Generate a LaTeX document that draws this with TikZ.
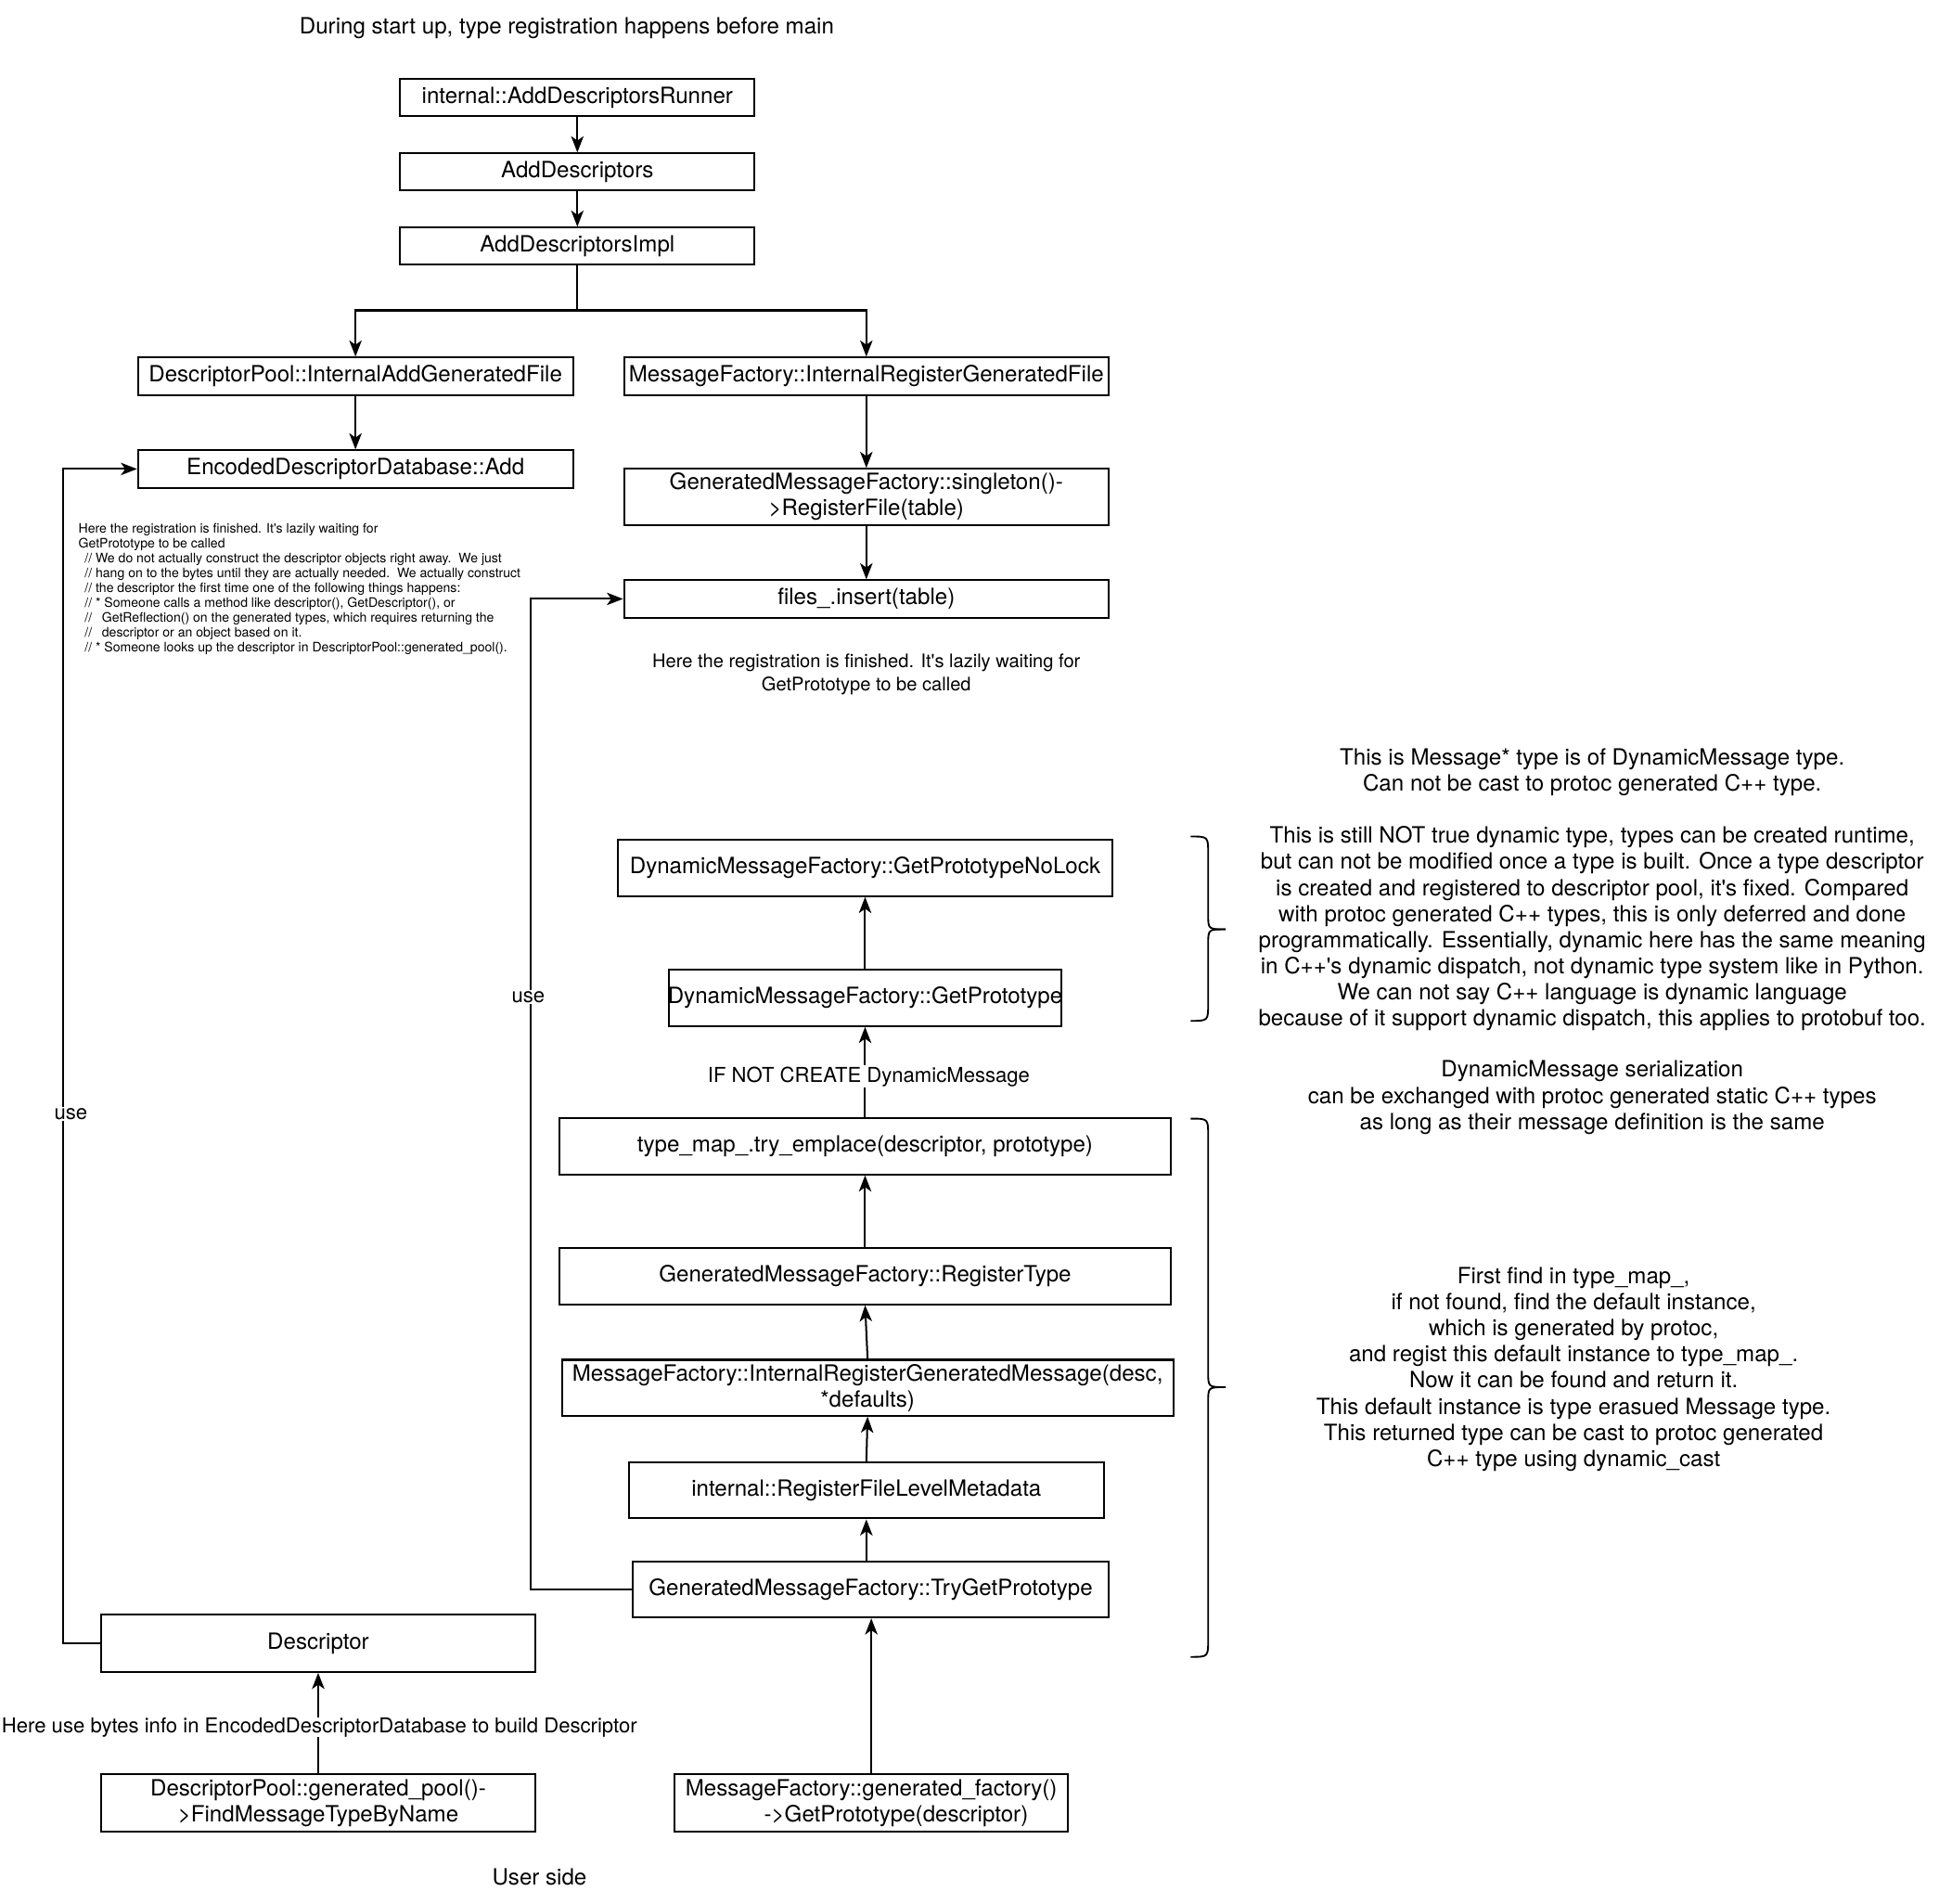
\documentclass[tikz,border=0pt]{standalone}
\usepackage{fontspec}
\setmainfont{TeX Gyre Heros}[Ligatures=TeXOff]
\usetikzlibrary{arrows.meta}
\newcommand\fmain{\fontsize{18}{21}\selectfont}
\newcommand\flab{\fontsize{16.5}{20}\selectfont}
\newcommand\fmid{\fontsize{15}{18}\selectfont}
\newcommand\fsmall{\fontsize{10.5}{12}\selectfont}
\begin{document}
\begin{tikzpicture}[x=1pt,y=-0.9954pt,
  box/.style={draw, line width=1.5pt, inner sep=0pt, align=center, font=\fmain},
  txt/.style={inner sep=0pt, align=center, font=\fmain},
  lbl/.style={fill=white, inner sep=1pt, font=\flab},
  arr/.style={-{Stealth[length=13pt,width=10pt,inset=3.5pt]}, line width=1.5pt},
  brace/.style={line width=1.4pt}]
\path[use as bounding box] (0,0) rectangle (1560,1538.7);

% title
\node[txt] (title) at (456,23) {During start up, type registration happens before main};

% top chain
\node[box, minimum width=285, minimum height=30] (n1) at (464.5,79) {internal::AddDescriptorsRunner};
\node[box, minimum width=285, minimum height=30] (n2) at (464.5,139) {AddDescriptors};
\node[box, minimum width=285, minimum height=30] (n3) at (464.5,199) {AddDescriptorsImpl};
\node[box, minimum width=350, minimum height=30] (n4) at (286,304) {DescriptorPool::InternalAddGeneratedFile};
\node[box, minimum width=390, minimum height=30] (n5) at (697,304) {MessageFactory::InternalRegisterGeneratedFile};
\node[box, minimum width=350, minimum height=30] (n6) at (286,379) {EncodedDescriptorDatabase::Add};
\node[box, minimum width=390, minimum height=45] (n7) at (697,401.5) {GeneratedMessageFactory::singleton()-\\>RegisterFile(table)};
\node[box, minimum width=390, minimum height=30] (n8) at (697,484) {files\_.insert(table)};

\draw[arr] (n1.south) -- (n2.north);
\draw[arr] (n2.south) -- (n3.north);
\draw[arr] (n3.south) -- ++(0,36) -| (n4.north);
\draw[arr] (n3.south) -- ++(0,36) -| (n5.north);
\draw[arr] (n4.south) -- (n6.north);
\draw[arr] (n5.south) -- (n7.north);
\draw[arr] (n7.south) -- (n8.north);

% notes
\node[inner sep=0pt, align=left, anchor=north west, font=\fsmall] (note1) at (63,422.5) {%
Here the registration is finished. It's lazily waiting for\\
GetPrototype to be called\\
\hspace*{5pt}// We do not actually construct the descriptor objects right away.\ \ We just\\
\hspace*{5pt}// hang on to the bytes until they are actually needed.\ \ We actually construct\\
\hspace*{5pt}// the descriptor the first time one of the following things happens:\\
\hspace*{5pt}// * Someone calls a method like descriptor(), GetDescriptor(), or\\
\hspace*{5pt}//\hspace*{8pt}GetReflection() on the generated types, which requires returning the\\
\hspace*{5pt}//\hspace*{8pt}descriptor or an object based on it.\\
\hspace*{5pt}// * Someone looks up the descriptor in DescriptorPool::generated\_pool().};

\node[inner sep=0pt, align=center, font=\fmid] (note2) at (697,545) {Here the registration is finished. It's lazily waiting for\\GetPrototype to be called};

% right column
\node[box, minimum width=398, minimum height=45] (n9) at (696,701.5) {DynamicMessageFactory::GetPrototypeNoLock};
\node[box, minimum width=316, minimum height=45] (n10) at (696,806.5) {};
\node[txt] (n10t) at (n10.center) {DynamicMessageFactory::GetPrototype};
\node[box, minimum width=492, minimum height=45] (n11) at (696,926.5) {type\_map\_.try\_emplace(descriptor, prototype)};
\node[box, minimum width=492, minimum height=45] (n12) at (696,1031.5) {GeneratedMessageFactory::RegisterType};
\node[box, minimum width=492, minimum height=45] (n13) at (698,1121.5) {MessageFactory::InternalRegisterGeneratedMessage(desc,\\*defaults)};
\node[box, minimum width=382, minimum height=45] (n14) at (697,1204.5) {internal::RegisterFileLevelMetadata};
\node[box, minimum width=383, minimum height=45] (n15) at (700.5,1284.5) {GeneratedMessageFactory::TryGetPrototype};
\node[box, minimum width=316, minimum height=46] (n16) at (701,1457) {MessageFactory::generated\_factory()\\\hspace*{40pt}->GetPrototype(descriptor)};

\draw[arr] (n10.north) -- (n9.south);
\draw[arr] (n11.north) -- node[lbl, pos=0.45, xshift=3pt] (l1) {IF NOT CREATE DynamicMessage} (n10.south);
\draw[arr] (n12.north) -- (n11.south);
\draw[arr] (n13.north) -- (n12.south);
\draw[arr] (n14.north) -- (n13.south);
\draw[arr] (n15.north -| n14.south) -- (n14.south);
\draw[arr] (n16.north) -- (n16.north |- n15.south);

% left bottom
\node[box, minimum width=350, minimum height=46] (n17) at (256,1328) {Descriptor};
\node[box, minimum width=350, minimum height=46] (n18) at (256,1457) {DescriptorPool::generated\_pool()-\\>FindMessageTypeByName};
\draw[arr] (n18.north) -- node[lbl, pos=0.46, inner sep=0pt, xshift=1pt] (l2) {Here use bytes info in EncodedDescriptorDatabase to build Descriptor} (n17.south);

% use connectors
\coordinate (c1) at (51,1328);
\draw[arr] (n17.west) -- (c1) |- (n6.west);
\node[lbl] (use1) at (57,900) {use};
\coordinate (c2) at (427,1284.5);
\draw[arr] (n15.west) -- (c2) |- (n8.west);
\node[lbl] (use2) at (425,806) {use};

% braces
\draw[brace] (958,676) .. controls (972,676) .. (972,690) -- (972,739) .. controls (972,751) .. (986,751);
\draw[brace] (986,751) .. controls (972,751) .. (972,763) -- (972,811) .. controls (972,825) .. (958,825);
\draw[brace] (958,904) .. controls (972,904) .. (972,918) -- (972,1109) .. controls (972,1121) .. (986,1121);
\draw[brace] (986,1121) .. controls (972,1121) .. (972,1133) -- (972,1325) .. controls (972,1339) .. (958,1339);

% right texts
\node[txt] (r1) at (1281,719) {This is Message* type is of DynamicMessage type.\\Can not be cast to protoc generated C++ type.\\[21pt]
This is still NOT true dynamic type, types can be created runtime,\\
but can not be modified once a type is built. Once a type descriptor\\
is created and registered to descriptor pool, it's fixed. Compared\\
with protoc generated C++ types, this is only deferred and done\\
programmatically. Essentially, dynamic here has the same meaning\\
in C++'s dynamic dispatch, not dynamic type system like in Python.\\
We can not say C++ language is dynamic language\\
because of it support dynamic dispatch, this applies to protobuf too.};
\node[txt] (r2) at (1281,887) {DynamicMessage serialization\\can be exchanged with protoc generated static C++ types\\as long as their message definition is the same};
\node[txt] (r3) at (1266,1106.5) {First find in type\_map\_,\\
if not found, find the default instance,\\
which is generated by protoc,\\
and regist this default instance to type\_map\_.\\
Now it can be found and return it.\\
This default instance is type erasued Message type.\\
This returned type can be cast to protoc generated\\
C++ type using dynamic\_cast};

\node[txt] (user) at (434,1517) {User side};
\end{tikzpicture}
\end{document}
